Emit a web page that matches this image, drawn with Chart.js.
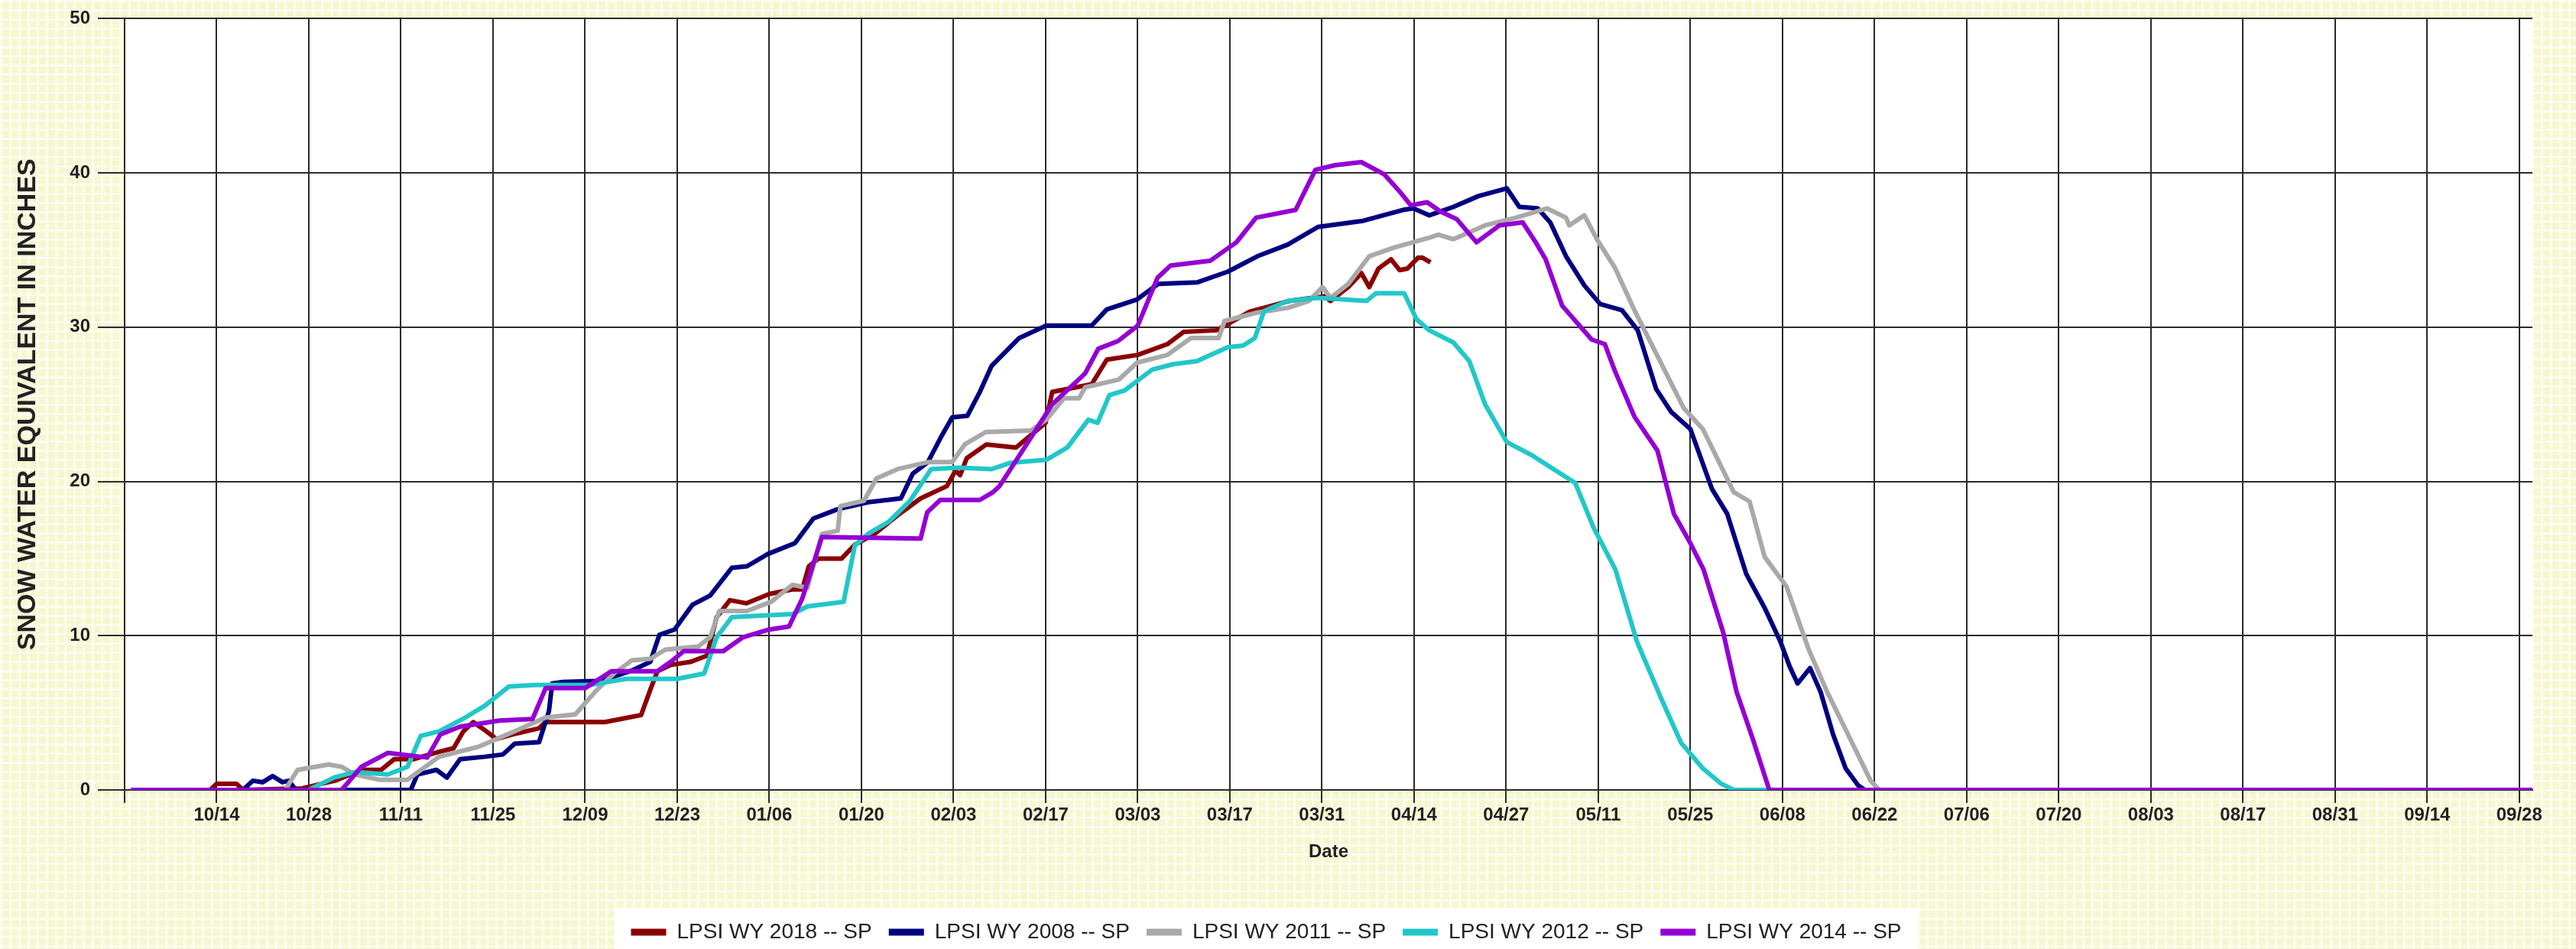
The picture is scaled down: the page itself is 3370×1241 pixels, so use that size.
<!DOCTYPE html>
<html>
<head>
<meta charset="utf-8">
<script src="https://cdn.jsdelivr.net/npm/chart.js@4.4.1/dist/chart.umd.min.js"></script>
<style>
    html, body { margin: 0; padding: 0; }
    body {
        width: 3370px;
        height: 1241px;
        overflow: hidden;
        background-color: #f6f7cf;
        background-image:
            linear-gradient(to right, rgba(255,255,255,0.6) 3px, transparent 3px),
            linear-gradient(to bottom, rgba(255,255,255,0.6) 3px, transparent 3px);
        background-size: 12px 12px;
    }
    .grafica { position: relative; width: 3370px; height: 1241px; }
</style>
</head>
<body>
<div class="grafica">
    <canvas id="grafica-swe"></canvas>
</div>
<script>
// dias desde el 30/09 (inicio del año hidrologico) y etiquetas del eje x
const diasMarca = [0, 14, 28, 42, 56, 70, 84, 98, 112, 126, 140, 154, 168, 182, 196,
    210, 224, 238, 252, 266, 280, 294, 308, 322, 336, 350, 364];
const etiquetasFecha = ['', '10/14', '10/28', '11/11', '11/25', '12/09', '12/23', '01/06', '01/20',
    '02/03', '02/17', '03/03', '03/17', '03/31', '04/14', '04/27', '05/11', '05/25', '06/08',
    '06/22', '07/06', '07/20', '08/03', '08/17', '08/31', '09/14', '09/28'];

const nombresSerie = ['LPSI WY 2018 -- SP', 'LPSI WY 2008 -- SP', 'LPSI WY 2011 -- SP',
    'LPSI WY 2012 -- SP', 'LPSI WY 2014 -- SP'];
const coloresSerie = ['#8b0000', '#000080', '#a9a9a9', '#22c7c9', '#9400d3'];

// [dia, pulgadas]
const swe2018 = [[1,0],[13,0],[14,0.4],[17,0.4],[18,0],[27,0.1],[29,0.3],[32,0.6],[36,1.3],[39,1.3],
    [41,2.0],[44,2.0],[48,2.5],[50,2.7],[51.5,3.8],[53,4.4],[55,3.8],[56.5,3.3],[59,3.6],[63,4.0],
    [64,4.4],[73,4.4],[76,4.65],[78.5,4.85],[80,6.6],[81,7.7],[83,8.1],[86,8.3],[88.5,8.7],[90,11.2],
    [92,12.3],[94.5,12.1],[98,12.7],[101.5,13.0],[103,13.0],[104,14.5],[105.5,15.0],[109,15.0],[111,15.9],
    [114,16.6],[117.5,17.8],[121,18.9],[125,19.7],[126.3,20.7],[127,20.4],[128,21.5],[131,22.4],
    [135.5,22.2],[140,23.8],[141,25.8],[147,26.3],[149.3,27.9],[154,28.2],[158.5,28.9],[161,29.7],
    [166,29.8],[171,31.0],[177,31.7],[182.4,32.0],[183.3,31.7],[186,32.6],[188,33.5],[189.2,32.6],
    [190.6,33.8],[192.5,34.4],[193.8,33.7],[195,33.8],[196.6,34.5],[197.3,34.5],[198.5,34.2]];

const swe2008 = [[1,0],[18,0],[19.5,0.6],[21,0.5],[22.5,0.9],[24,0.5],[25,0.6],[26,0],[43.5,0],[44.5,1.0],
    [47.4,1.3],[49,0.8],[51,2.0],[54.7,2.15],[57.5,2.3],[59.3,3.0],[63,3.1],[64.5,5.1],[65,6.9],[66.7,7.0],
    [71.6,7.07],[74.4,7.35],[77.1,7.74],[79.9,8.3],[81.3,10.06],[83.6,10.4],[86.3,12.0],[89,12.6],
    [92.3,14.4],[94.6,14.5],[97.8,15.3],[101.9,16.0],[104.7,17.6],[108.4,18.2],[113,18.65],[118,18.9],
    [119.8,20.5],[122.1,21.25],[124,22.8],[125.8,24.15],[128.1,24.25],[130,25.8],[131.8,27.5],[136,29.3],
    [140.1,30.1],[147,30.1],[149.3,31.15],[153.9,31.8],[157.1,32.8],[163,32.9],[167.7,33.6],[172.2,34.6],
    [176.8,35.35],[181.4,36.5],[188.3,36.9],[194.3,37.6],[195.9,37.7],[198.3,37.25],[202,37.8],
    [205.8,38.5],[210.1,39.0],[212,37.8],[214.8,37.7],[216.7,36.8],[219.1,34.6],[221.9,32.7],[224.3,31.5],
    [227.6,31.1],[230,29.8],[232.8,26.0],[235.1,24.5],[238,23.4],[241.3,19.5],[243.6,17.9],[246.5,14.0],
    [249.3,11.8],[251.7,9.6],[253.1,8.0],[254.3,6.9],[256.2,7.9],[257.8,6.35],[259.7,3.6],[261.6,1.4],
    [263.5,0.3],[264.5,0],[366,0]];

const swe2011 = [[1,0],[24.4,0],[26.3,1.3],[31,1.65],[33,1.5],[35,1.0],[38.7,0.66],[43,0.66],[47.8,2.15],
    [53.8,2.8],[59.3,3.8],[64,4.7],[68.5,4.9],[71.6,6.4],[74.4,7.55],[77.1,8.4],[79.9,8.5],[82.2,9.1],
    [87.2,9.3],[89,9.9],[90.4,11.6],[94.6,11.6],[98.3,12.2],[101.5,13.3],[103.8,13.1],[106,16.6],
    [108.4,16.8],[108.8,18.4],[112.4,18.75],[114.3,20.2],[117.5,20.8],[122.1,21.25],[125.8,21.25],
    [127.7,22.4],[130.9,23.2],[137.8,23.3],[140.1,24.0],[142.8,25.4],[145.1,25.4],[146,26.1],[151.1,26.6],
    [153.9,27.7],[158.5,28.2],[162.1,29.3],[166.3,29.3],[167.2,30.4],[172.2,30.95],[176.8,31.25],
    [180,31.7],[182.1,32.6],[183.3,31.9],[186,32.8],[189.2,34.6],[192.9,35.15],[198.3,35.8],[199.7,36.0],
    [202,35.7],[206.8,36.6],[211.5,37.1],[216.2,37.7],[219.1,37.1],[219.6,36.6],[221.9,37.25],[223.8,35.7],
    [226.6,33.8],[229.5,31.1],[232.8,28.3],[237,24.75],[239.9,23.4],[244.6,19.3],[247,18.7],[249.3,15.1],
    [252.6,13.2],[256,9.1],[258.8,6.35],[262.6,3.05],[265.4,0.6],[266.7,0],[366,0]];

const swe2012 = [[1,0],[28,0],[31.8,0.8],[35,1.16],[40,1.0],[43,1.5],[45,3.5],[47.8,3.8],[51.4,4.6],
    [54.7,5.45],[58.4,6.7],[62.4,6.8],[70.7,6.8],[76.2,7.2],[84,7.2],[88.1,7.55],[90,9.9],[92.3,11.2],
    [101.5,11.4],[103.8,11.9],[109.3,12.2],[111,15.85],[113,16.6],[116.2,17.4],[119.4,18.75],[122.6,20.8],
    [126.7,20.9],[131.8,20.8],[134.6,21.2],[140.1,21.4],[143.3,22.2],[146.5,24.0],[147.9,23.8],[149.7,25.6],
    [152,25.9],[156.2,27.25],[159.4,27.6],[163,27.8],[167.7,28.7],[170,28.8],[171.8,29.3],[173.2,31.05],
    [176.8,31.7],[181.4,31.9],[188.8,31.7],[190.2,32.2],[194.5,32.2],[196.4,30.5],[198.3,29.8],[202,29.0],
    [204.4,27.8],[206.8,25.0],[210.1,22.55],[213.9,21.7],[217.2,20.8],[220.5,19.9],[223.3,17.0],
    [226.6,14.3],[229.9,9.6],[233.7,5.8],[236.6,3.05],[239.9,1.4],[242.7,0.4],[244.6,0],[366,0]];

const swe2014 = [[1,0],[33,0],[36,1.5],[40,2.4],[46,2.1],[48,3.6],[51,4.1],[57,4.5],[62,4.6],[64,6.6],
    [70,6.6],[74,7.7],[81,7.7],[83,8.3],[85,9.0],[91,9.0],[94,9.9],[98,10.4],[101,10.6],[103,12.4],
    [106,16.4],[121,16.3],[122,18.0],[124,18.8],[130,18.8],[132,19.3],[133,19.7],[138,23.0],[141,25.0],
    [146,27.0],[148,28.6],[151,29.1],[154,30.1],[157,33.2],[159,34.0],[165,34.3],[169,35.5],[172,37.1],
    [178,37.6],[181,40.2],[184,40.5],[188,40.7],[191.5,39.9],[194,38.7],[195.5,37.9],[198,38.1],[200,37.5],
    [202.5,37.0],[205.5,35.5],[209,36.6],[212.5,36.8],[214.5,35.5],[216,34.4],[218.5,31.4],[223,29.2],
    [225,28.9],[226.5,27.2],[229.5,24.2],[233,22.0],[235.5,17.9],[238,16.0],[240,14.3],[243,10.2],
    [245,6.4],[247.5,3.3],[250,0],[366,0]];

const seriesSwe = [swe2018, swe2008, swe2011, swe2012, swe2014];

(function(){

    const colorRejilla = '#2b2b2b';
    const colorTexto = '#222222';
    Chart.defaults.font.family = '"Liberation Sans", Arial, sans-serif';

    // fondo blanco del area de la grafica y caja blanca de la leyenda
    const fondoBlanco = {
        id: 'fondoBlanco',
        beforeDraw(chart) {
            const {ctx, chartArea} = chart;
            ctx.save();
            ctx.fillStyle = '#ffffff';
            ctx.fillRect(chartArea.left, chartArea.top, chartArea.right - chartArea.left, chartArea.bottom - chartArea.top);
            const leyenda = chart.legend;
            if (leyenda && leyenda.legendHitBoxes && leyenda.legendHitBoxes.length) {
                const cajas = leyenda.legendHitBoxes;
                const izq = Math.min(...cajas.map(c => c.left)) - 22;
                const der = Math.max(...cajas.map(c => c.left + c.width)) + 22;
                ctx.fillRect(izq, leyenda.top + 4, der - izq, chart.height - leyenda.top);
            }
            ctx.restore();
        }
    };

    const datasets = seriesSwe.map((serie, i) => ({
        label: nombresSerie[i],
        data: serie.map(p => ({x: p[0], y: p[1]})),
        borderColor: coloresSerie[i],
        backgroundColor: coloresSerie[i],
        borderWidth: 6,
        pointRadius: 0,
        tension: 0,
        borderJoinStyle: 'round',
        order: seriesSwe.length - i
    }));

    const ctx = document.getElementById('grafica-swe');

    new Chart(ctx, {
        type: 'line',
        data: { datasets: datasets },
        options: {
            responsive: true,
            maintainAspectRatio: false,
            animation: false,
            layout: {
                padding: { top: 21, right: 57, bottom: -2, left: 0 }
            },
            scales: {
                x: {
                    type: 'linear',
                    min: 0,
                    max: 366,
                    afterBuildTicks: (escala) => {
                        escala.ticks = diasMarca.map(v => ({ value: v }));
                    },
                    afterFit: (escala) => {
                        escala.height = 150;
                    },
                    ticks: {
                        callback: (valor, indice) => etiquetasFecha[indice],
                        autoSkip: false,
                        maxRotation: 0,
                        padding: 2,
                        color: colorTexto,
                        font: { size: 24, weight: 'bold' }
                    },
                    grid: { color: colorRejilla, lineWidth: 2, tickLength: 17 },
                    border: { color: colorRejilla, width: 2 },
                    title: {
                        display: true,
                        text: 'Date',
                        color: colorTexto,
                        font: { size: 24, weight: 'bold' },
                        padding: { top: 0, bottom: 54 }
                    }
                },
                y: {
                    min: 0,
                    max: 50,
                    afterFit: (escala) => {
                        escala.width = 163;
                    },
                    ticks: {
                        stepSize: 10,
                        padding: 10,
                        color: colorTexto,
                        font: { size: 24, weight: 'bold' }
                    },
                    grid: { color: colorRejilla, lineWidth: 2, tickLength: 35 },
                    border: { color: colorRejilla, width: 2 },
                    title: {
                        display: true,
                        text: 'SNOW WATER EQUIVALENT IN INCHES',
                        color: colorTexto,
                        font: { size: 34, weight: 'bold' },
                        padding: { top: 16, bottom: 0 }
                    }
                }
            },
            plugins: {
                legend: {
                    position: 'bottom',
                    labels: {
                        boxWidth: 46,
                        boxHeight: 9,
                        padding: 22,
                        color: colorTexto,
                        font: { size: 28 },
                        sort: (a, b) => a.datasetIndex - b.datasetIndex,
                        generateLabels: (chart) => Chart.defaults.plugins.legend.labels.generateLabels(chart)
                            .map(item => ({ ...item, lineWidth: 0 }))
                    }
                },
                tooltip: { enabled: false },
                title: { display: false }
            }
        },
        plugins: [fondoBlanco]
    });

})();
</script>
</body>
</html>
